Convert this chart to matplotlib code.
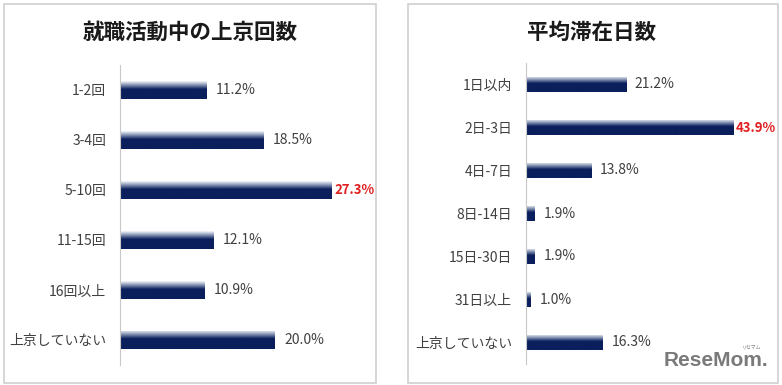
import numpy as np
import matplotlib.pyplot as plt
from matplotlib.colors import LinearSegmentedColormap
from matplotlib.patches import Rectangle

plt.rcParams["font.family"] = ["Noto Sans CJK JP", "DejaVu Sans"]

# 就職活動中の上京回数
kaisu_labels = ["1-2回", "3-4回", "5-10回", "11-15回", "16回以上", "上京していない"]
kaisu_values = [11.2, 18.5, 27.3, 12.1, 10.9, 20.0]

# 平均滞在日数
nissu_labels = ["1日以内", "2日-3日", "4日-7日", "8日-14日", "15日-30日", "31日以上", "上京していない"]
nissu_values = [21.2, 43.9, 13.8, 1.9, 1.9, 1.0, 16.3]

W, H = 782, 385
fig = plt.figure(figsize=(W / 100, H / 100), dpi=100)

# gradiente da barra: claro em cima, azul marinho embaixo
navy = "#0a1f5c"
cmap = LinearSegmentedColormap.from_list(
    "barra", [(0.0, navy), (0.55, navy), (0.8, "#8c9ab8"), (1.0, "#f4f6fa")])
grad = np.linspace(0, 1, 64).reshape(-1, 1)


def px_axes(x0, y0, x1, y1):
    # coordenadas em pixels (origem no topo) -> fração da figura
    return fig.add_axes([x0 / W, 1 - y1 / H, (x1 - x0) / W, (y1 - y0) / H])


def painel(x0, y0, x1, y1):
    bg = fig.add_axes([0, 0, 1, 1], zorder=-1)
    bg.set_xlim(0, W)
    bg.set_ylim(H, 0)
    bg.axis("off")
    bg.add_patch(Rectangle((x0, y0), x1 - x0, y1 - y0, fill=False,
                           edgecolor="#d0d0d0", linewidth=1.2))


def grafico(ax, labels, values, xmax, altura, destaque):
    n = len(labels)
    pos = np.arange(n)
    bars = ax.barh(pos, values, height=altura, color="none", edgecolor="none")
    for b in bars:
        x, y = b.get_x(), b.get_y()
        w, h = b.get_width(), b.get_height()
        im = ax.imshow(grad, cmap=cmap, aspect="auto", origin="lower",
                       extent=[x, x + w, y + h, y], zorder=2)
        im.set_clip_path(b)
    for i, v in enumerate(values):
        if i == destaque:
            ax.text(v + xmax * 0.012, i, f"{v:.1f}%", va="center", ha="left",
                    fontsize=9.5, color="#e02020", fontweight="bold")
        else:
            ax.text(v + xmax * 0.035, i, f"{v:.1f}%", va="center", ha="left",
                    fontsize=10, color="#404040")
    ax.set_xlim(0, xmax)
    ax.set_ylim(n - 0.5, -0.5)
    ax.set_yticks(pos)
    ax.set_yticklabels(labels, fontsize=10, color="#404040")
    ax.tick_params(axis="y", length=0, pad=10)
    ax.set_xticks([])
    for s in ["top", "right", "bottom"]:
        ax.spines[s].set_visible(False)
    ax.spines["left"].set_color("#c8c8c8")
    ax.patch.set_alpha(0)


# painel esquerdo
painel(4, 4, 376, 383)
ax1 = px_axes(120, 65, 376, 365)
grafico(ax1, kaisu_labels, kaisu_values, 256 / 7.75, 0.36, 2)
fig.text(190 / W, 1 - 32 / H, "就職活動中の上京回数", ha="center", va="center",
         fontsize=15.5, fontweight="bold", color="#1a1a1a")

# painel direito
painel(408, 4, 778, 383)
ax2 = px_axes(526, 63, 778, 364)
grafico(ax2, nissu_labels, nissu_values, 252 / 4.72, 0.36, 1)
fig.text(592 / W, 1 - 32 / H, "平均滞在日数", ha="center", va="center",
         fontsize=15.5, fontweight="bold", color="#1a1a1a")

# logo
fig.text(768 / W, 1 - 361 / H, "ReseMom.", ha="right", va="center",
         fontsize=15, fontweight="bold", color="#7a7a7a", family="Liberation Sans")
fig.text(752 / W, 1 - 347 / H, "リセマム", ha="center", va="center",
         fontsize=3.5, color="#7a7a7a")

fig.savefig("out.png", dpi=100)
